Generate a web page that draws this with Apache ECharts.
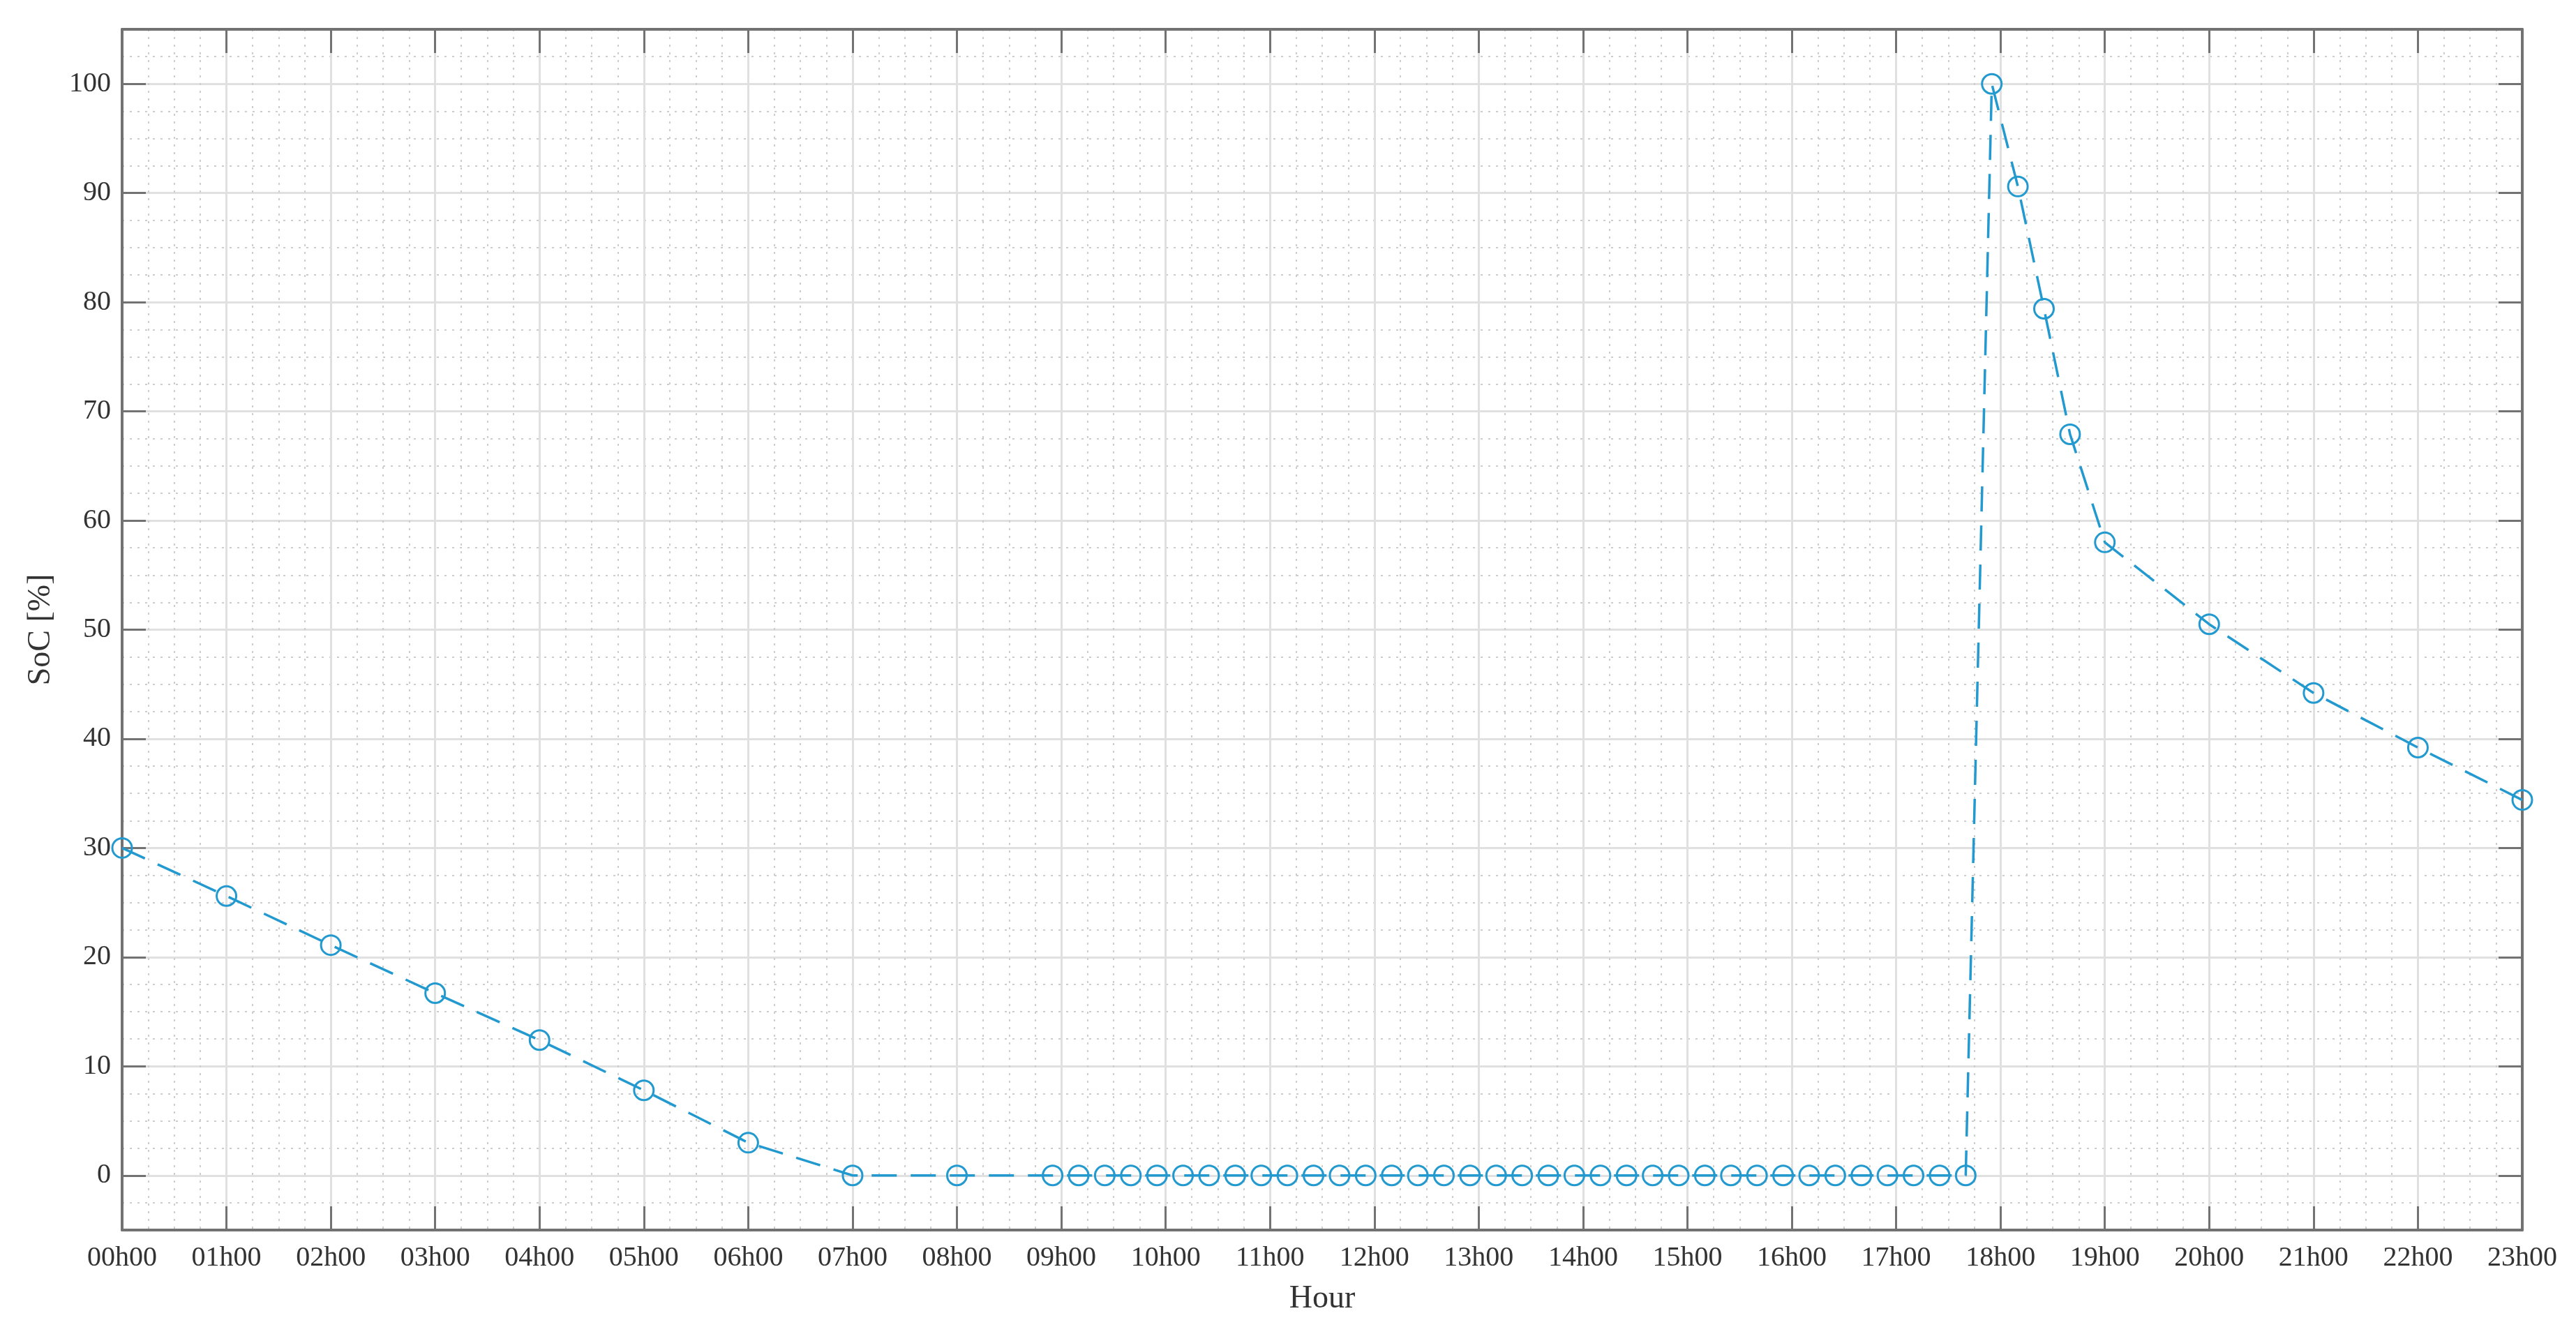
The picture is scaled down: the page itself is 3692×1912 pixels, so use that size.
<!DOCTYPE html>
<html>
<head>
<meta charset="utf-8">
<script src="https://cdn.jsdelivr.net/npm/echarts@6/dist/echarts.min.js"></script>
<style>
html,body{margin:0;padding:0;background:#fff;}
#chart{width:3692px;height:1912px;}
</style>
</head>
<body>
<div id="chart"></div>
<script>
// ---- data ----
const times = [
  '00h00','01h00','02h00','03h00','04h00','05h00','06h00','07h00','08h00',
  '08h55','09h10','09h25','09h40','09h55','10h10','10h25','10h40','10h55',
  '11h10','11h25','11h40','11h55','12h10','12h25','12h40','12h55','13h10',
  '13h25','13h40','13h55','14h10','14h25','14h40','14h55','15h10','15h25',
  '15h40','15h55','16h10','16h25','16h40','16h55','17h10','17h25','17h40',
  '17h55','18h10','18h25','18h40','19h00','20h00','21h00','22h00','23h00'
];
const soc = [
  30, 25.6, 21.1, 16.7, 12.4, 7.8, 3.0, 0, 0,
  0, 0, 0, 0, 0, 0, 0, 0, 0,
  0, 0, 0, 0, 0, 0, 0, 0, 0,
  0, 0, 0, 0, 0, 0, 0, 0, 0,
  0, 0, 0, 0, 0, 0, 0, 0, 0,
  100, 90.6, 79.4, 67.9, 58.0, 50.5, 44.2, 39.2, 34.4
];
const yTickValues = [0, 10, 20, 30, 40, 50, 60, 70, 80, 90, 100];
const xAxisName = 'Hour';
const yAxisName = 'SoC [%]';

// ---- build ----
function toHours(t) { const p = t.split('h'); return parseInt(p[0], 10) + parseInt(p[1], 10) / 60; }
const seriesData = times.map((t, i) => [toHours(t), soc[i]]);
const pad2 = n => (n < 10 ? '0' : '') + n;

const FONT = 'Liberation Serif';
const AXIS_COLOR = '#727272';
const LABEL_COLOR = '#333333';
const LINE_COLOR = '#2299cf';
const MAJOR_GRID = { show: true, lineStyle: { color: '#e0e0e0', width: 3, type: 'solid' } };
const MINOR_GRID = { show: true, lineStyle: { color: '#cdcdcd', width: 2, type: [3, 8] } };
const TICK = { show: true, inside: true, length: 34, lineStyle: { color: AXIS_COLOR, width: 3 } };
const LINE = { show: true, onZero: false, lineStyle: { color: AXIS_COLOR, width: 4 } };

const chart = echarts.init(document.getElementById('chart'), null, { renderer: 'canvas' });
chart.setOption({
  animation: false,
  backgroundColor: '#ffffff',
  grid: { left: 175, right: 77, top: 42, bottom: 149, containLabel: false },
  xAxis: [
    {
      type: 'value', min: 0, max: 23, interval: 1, position: 'bottom',
      name: xAxisName, nameLocation: 'middle', nameGap: 76,
      nameTextStyle: { fontFamily: FONT, fontSize: 46, color: LABEL_COLOR },
      axisLine: LINE, axisTick: TICK,
      axisLabel: { show: true, margin: 20, fontFamily: FONT, fontSize: 40, color: LABEL_COLOR,
        formatter: v => pad2(Math.round(v)) + 'h00' },
      splitLine: MAJOR_GRID,
      minorTick: { show: false, splitNumber: 4 },
      minorSplitLine: MINOR_GRID,
      z: 3
    },
    {
      type: 'value', min: 0, max: 23, interval: 1, position: 'top',
      axisLine: LINE, axisTick: TICK, axisLabel: { show: false },
      splitLine: { show: false }, z: 3
    }
  ],
  yAxis: [
    {
      type: 'value', min: -5, max: 105, position: 'left',
      name: yAxisName, nameLocation: 'middle', nameGap: 93, nameRotate: 90,
      nameTextStyle: { fontFamily: FONT, fontSize: 46, color: LABEL_COLOR },
      axisLine: LINE,
      axisTick: Object.assign({}, TICK, { customValues: yTickValues }),
      axisLabel: { show: true, margin: 16, fontFamily: FONT, fontSize: 40, color: LABEL_COLOR,
        customValues: yTickValues },
      splitLine: MAJOR_GRID,
      z: 3
    },
    {
      type: 'value', min: -5, max: 105, position: 'right',
      axisLine: LINE,
      axisTick: Object.assign({}, TICK, { customValues: yTickValues }),
      axisLabel: { show: false, customValues: yTickValues },
      splitLine: { show: false },
      z: 3
    },
    {
      type: 'value', min: -5, max: 105, interval: 2.5, position: 'left',
      axisLine: { show: false }, axisTick: { show: false }, axisLabel: { show: false },
      splitLine: MINOR_GRID,
      z: 1
    }
  ],
  series: [{
    type: 'line',
    xAxisIndex: 0, yAxisIndex: 0,
    data: seriesData,
    clip: false,
    symbol: 'circle',
    symbolSize: 28,
    showAllSymbol: true,
    lineStyle: { color: LINE_COLOR, width: 3.5, type: [36, 20] },
    itemStyle: { color: 'rgba(255,255,255,0)', borderColor: LINE_COLOR, borderWidth: 3 },
    emphasis: { disabled: true },
    z: 5
  }]
});
</script>
</body>
</html>
